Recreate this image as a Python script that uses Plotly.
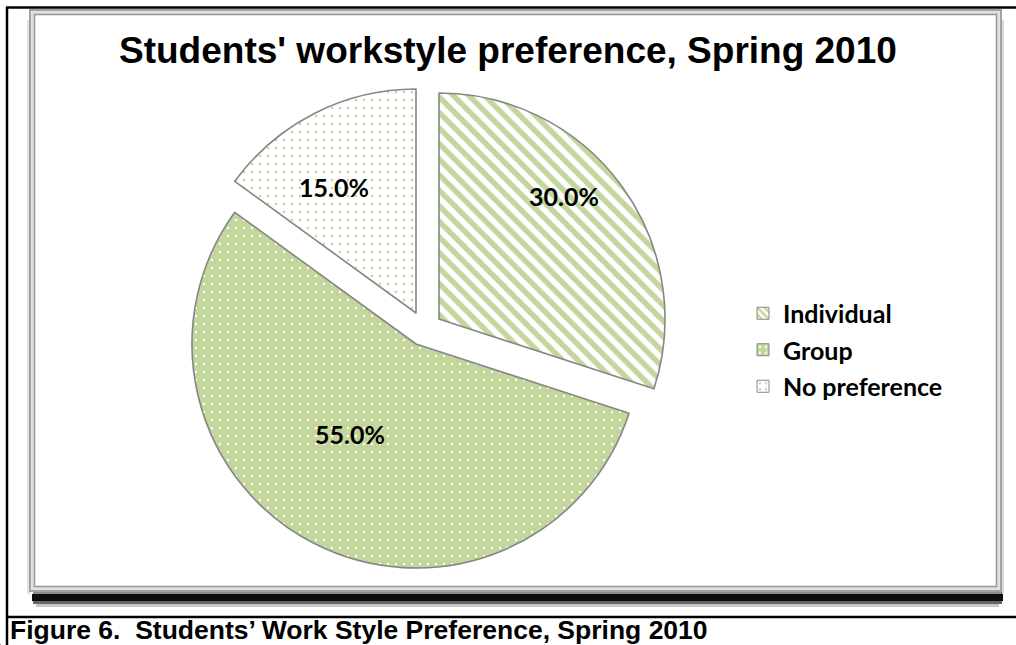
import math
import plotly.graph_objects as go

# ---------------- data ----------------
labels = ["Individual", "Group", "No preference"]
values = [30.0, 55.0, 15.0]
title_text = "Students' workstyle preference, Spring 2010"
caption_text = "Figure 6.  Students\u2019 Work Style Preference, Spring 2010"

# ---------------- styles ----------------
W, H = 1016, 645
GREEN = "#c3d69b"
EDGE = "#868686"
pattern_shape = ["\\", ".", "."]
pattern_fg = [GREEN, "white", GREEN]
pattern_bg = ["white", GREEN, "white"]
pattern_size = [11, 8, 8]
pattern_solid = [0.5, 0.07, 0.08]
# exploded slice placement: (centre x px, centre y px, radius px)
slice_place = [(439, 319, 226), (416, 344, 224), (416, 313, 224)]
# data-label placement: (fraction of radius, angle tweak in degrees)
label_place = [(0.784, -9.0), (0.49, 10.1), (0.677, -5.7)]

LABEL_FONT = dict(family="Lato", size=25, color="black", weight="bold")


def px_x(x):
    return x / W


def px_y(y):
    return 1 - y / H


fig = go.Figure()

# one pie per exploded slice (all share the same angles from the data)
n = len(values)
total = sum(values)
for k in range(n):
    cx, cy, r = slice_place[k]
    fig.add_trace(go.Pie(
        labels=labels, values=values, sort=False, direction="clockwise",
        rotation=0, showlegend=False, hoverinfo="skip", textinfo="none",
        domain=dict(x=[px_x(cx - r), px_x(cx + r)],
                    y=[px_y(cy + r), px_y(cy - r)]),
        marker=dict(
            colors=[GREEN if i == k else "rgba(0,0,0,0)" for i in range(n)],
            line=dict(color=EDGE, width=[1.6 if i == k else 0 for i in range(n)]),
            pattern=dict(
                shape=[pattern_shape[i] if i == k else "" for i in range(n)],
                fgcolor=[pattern_fg[i] if i == k else "rgba(0,0,0,0)" for i in range(n)],
                bgcolor=[pattern_bg[i] if i == k else "rgba(0,0,0,0)" for i in range(n)],
                size=pattern_size, solidity=pattern_solid,
            ),
        ),
    ))

# legend entries (tiny pies, one per category)
for i in range(n):
    fig.add_trace(go.Pie(
        labels=[labels[i]], values=[values[i]], sort=False,
        legendgroup=labels[i], showlegend=True, textinfo="none", hoverinfo="skip",
        domain=dict(x=[0, 0.0005], y=[0, 0.0005]),
        marker=dict(
            colors=[pattern_bg[i]],
            line=dict(color=EDGE, width=1),
            pattern=dict(shape=[pattern_shape[i]], fgcolor=[pattern_fg[i]],
                         bgcolor=[pattern_bg[i]], size=[5 if i == 0 else 6],
                         solidity=[0.5 if i == 0 else 0.12]),
        ),
    ))

annotations = []
# data labels, placed from the slice angles computed from the values
cum = 0.0
for k in range(n):
    mid = (cum + values[k] / 2) / total * 360.0
    cum += values[k]
    cx, cy, r = slice_place[k]
    frac, tweak = label_place[k]
    a = math.radians(mid + tweak)
    lx = cx + frac * r * math.sin(a)
    ly = cy - frac * r * math.cos(a)
    annotations.append(dict(
        text="%.1f%%" % (values[k] / total * 100), x=px_x(lx), y=px_y(ly + 2),
        xref="paper", yref="paper", xanchor="center", yanchor="middle",
        showarrow=False, font=LABEL_FONT))

shapes = []
# outer black border (page frame)
for (x0, y0, x1, y1) in [(6, 7.5, W, 7.5), (7, 7, 7, H), (6, 617, W, 617)]:
    shapes.append(dict(type="line", xref="paper", yref="paper",
                       x0=px_x(x0), y0=px_y(y0), x1=px_x(x1), y1=px_y(y1),
                       line=dict(color="black", width=2.5), layer="below"))
# drop shadow under chart frame
for (x0, y0, x1, y1, op) in [(33, 591, 1002, 594, 0.45), (32, 594, 1003, 601, 0.95),
                             (33, 601, 1002, 604, 0.6), (36, 604, 999, 607, 0.22),
                             (1001, 20, 1004, 594, 0.15), (27, 20, 30, 594, 0.12)]:
    shapes.append(dict(type="rect", xref="paper", yref="paper",
                       x0=px_x(x0), y0=px_y(y0), x1=px_x(x1), y1=px_y(y1),
                       fillcolor="black", opacity=op, line=dict(width=0), layer="below"))
# chart frame (double grey line)
for (off, col, wd) in [(0, "#a3a3a3", 2), (2.5, "#dcdcdc", 2.5), (4.5, "#959595", 1.5)]:
    shapes.append(dict(type="rect", xref="paper", yref="paper",
                       x0=px_x(30 + off), y0=px_y(591 - off), x1=px_x(1001 - off), y1=px_y(10 + off),
                       fillcolor="rgba(0,0,0,0)" if off else "white",
                       line=dict(color=col, width=wd), layer="below"))

annotations += [
    dict(text="<b>" + title_text + "</b>", x=px_x(508), y=px_y(50), xref="paper", yref="paper",
         xanchor="center", yanchor="middle", showarrow=False,
         font=dict(family="Liberation Sans", size=37, color="black")),
    dict(text="<b>" + caption_text + "</b>", x=px_x(8), y=px_y(630), xref="paper", yref="paper",
         xanchor="left", yanchor="middle", showarrow=False,
         font=dict(family="Liberation Sans", size=26.5, color="black")),
]

fig.update_layout(
    width=W, height=H, margin=dict(l=0, r=0, t=0, b=0),
    paper_bgcolor="white", plot_bgcolor="white",
    shapes=shapes, annotations=annotations,
    legend=dict(x=px_x(743), y=px_y(350), xanchor="left", yanchor="middle",
                traceorder="grouped", tracegroupgap=1, itemwidth=30,
                bgcolor="rgba(0,0,0,0)",
                font=dict(family="Lato", size=25, color="black", weight="bold")),
)

fig.write_html("out.html", config={"displayModeBar": False},
               post_script="document.body.style.margin='0';document.body.style.overflow='hidden';")
